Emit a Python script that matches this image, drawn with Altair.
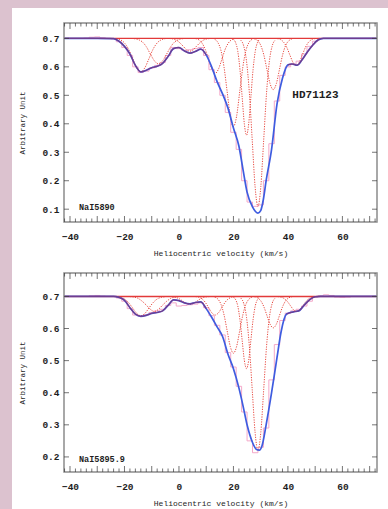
import altair as alt
import pandas as pd

W, H = 313, 199
FONT = "Liberation Mono"
INK = "#1e1e1e"

VEL_LIMITS = [-42.2, 72.7]
TOP_Y_LIMITS = [0.055, 0.754]
BOT_Y_LIMITS = [0.153, 0.773]
X_TICK_LABELS = [-40, -20, 0, 20, 40, 60]
TOP_Y_TICK_LABELS = [0.1, 0.2, 0.3, 0.4, 0.5, 0.6, 0.7]
BOT_Y_TICK_LABELS = [0.2, 0.3, 0.4, 0.5, 0.6, 0.7]
X_MAJOR_TICKS = [-40, -30, -20, -10, 0, 10, 20, 30, 40, 50, 60, 70]
X_MINOR_TICKS = [-42, -38, -36, -34, -32, -28, -26, -24, -22, -18, -16, -14, -12,
                 -8, -6, -4, -2, 2, 4, 6, 8, 12, 14, 16, 18, 22, 24, 26, 28, 32, 34,
                 36, 38, 42, 44, 46, 48, 52, 54, 56, 58, 62, 64, 66, 68, 72]
CONTINUUM = 0.7

# smoothed observed profile (blue)
TOP_BLUE_V = [-42.2, -30, -24, -22, -20, -18, -16, -14, -12, -10, -8, -6, -4, -2, 0, 2, 4, 6, 8, 10,
              12, 14, 16, 18, 20, 22, 23.5, 25, 27, 29, 30, 31, 32, 34, 36, 38, 40, 41.5, 43.5,
              45, 47, 49, 51, 53, 60, 72.7]
TOP_BLUE_F = [0.7, 0.7, 0.699, 0.69, 0.672, 0.645, 0.605, 0.582, 0.588, 0.597, 0.602, 0.612, 0.636,
              0.664, 0.668, 0.656, 0.648, 0.654, 0.662, 0.642, 0.6, 0.548, 0.505, 0.455, 0.385,
              0.322, 0.24, 0.16, 0.108, 0.086, 0.095, 0.135, 0.2, 0.31, 0.47, 0.56, 0.607, 0.61,
              0.606, 0.622, 0.65, 0.675, 0.694, 0.7, 0.7, 0.7]
BOT_BLUE_V = [-42.2, -30, -24, -22, -20, -18, -16, -14, -12, -10, -8, -6, -4, -2, 0, 2, 4, 6, 8, 10,
              12, 14, 16, 18, 20, 22, 23.5, 25, 27, 28.5, 29.5, 30.5, 32, 34, 36, 37.5, 39.5, 42,
              44, 46, 48, 50, 52, 60, 72.7]
BOT_BLUE_F = [0.7, 0.7, 0.7, 0.697, 0.688, 0.665, 0.645, 0.638, 0.641, 0.647, 0.65, 0.655, 0.672,
              0.689, 0.687, 0.68, 0.677, 0.681, 0.683, 0.662, 0.635, 0.605, 0.575, 0.52, 0.475,
              0.415, 0.36, 0.3, 0.245, 0.223, 0.221, 0.235, 0.3, 0.4, 0.51, 0.59, 0.645, 0.652,
              0.655, 0.673, 0.69, 0.699, 0.7, 0.7, 0.7]

# raw spectrum (pink histogram), bin centres
PINK_V = [-42, -40, -38, -36, -34, -32, -30, -28, -26, -24, -22, -20, -18, -16, -14, -12, -10, -8,
          -6, -4, -2, 0, 2, 4, 6, 8, 10, 12, 14, 16, 18, 20, 22, 24, 26, 28, 30, 32, 34, 36, 38,
          40, 42, 44, 46, 48, 50, 52, 54, 56, 58, 60, 62, 64, 66, 68, 70, 72, 72.7]
TOP_PINK_F = [0.7, 0.7, 0.7, 0.7, 0.701, 0.704, 0.705, 0.702, 0.7, 0.698, 0.688, 0.668, 0.64, 0.6,
              0.58, 0.585, 0.596, 0.605, 0.615, 0.64, 0.668, 0.664, 0.658, 0.66, 0.664, 0.668,
              0.64, 0.59, 0.545, 0.5, 0.44, 0.37, 0.31, 0.2, 0.125, 0.11, 0.115, 0.2, 0.33, 0.48,
              0.57, 0.6, 0.61, 0.62, 0.645, 0.672, 0.69, 0.7, 0.7, 0.7, 0.7, 0.7, 0.7, 0.7, 0.7,
              0.7, 0.7, 0.7, 0.7]
BOT_PINK_F = [0.7, 0.7, 0.7, 0.7, 0.7, 0.702, 0.703, 0.701, 0.7, 0.7, 0.695, 0.685, 0.662, 0.642,
              0.64, 0.643, 0.65, 0.655, 0.66, 0.672, 0.68, 0.67, 0.672, 0.674, 0.676, 0.68, 0.665,
              0.64, 0.61, 0.58, 0.525, 0.48, 0.42, 0.34, 0.25, 0.213, 0.23, 0.29, 0.44, 0.55,
              0.625, 0.648, 0.655, 0.66, 0.67, 0.685, 0.698, 0.702, 0.705, 0.703, 0.698, 0.697,
              0.698, 0.7, 0.7, 0.7, 0.7, 0.7, 0.7]

# fitted absorption components (red dotted)
TOP_COMP_V = [
    [-23, -21.5, -20, -18.5, -17, -15.5, -14, -12.5, -11, -9.5, -8, -6.5, -5],
    [-16.5, -15, -13.5, -12, -10.5, -9, -7.5, -6, -4.5, -3, -1.5, 0, 1.5],
    [-3.5, -2.25, -1, 0.25, 1.5, 2.75, 4, 5.25, 6.5, 7.75, 9, 10.25, 11.5],
    [6.1, 7.3, 8.5, 9.7, 10.9, 12.1, 13.3, 14.5, 15.7, 16.9, 18.1, 19.3, 20.5],
    [13.1, 14.25, 15.4, 16.55, 17.7, 18.85, 20, 21.15, 22.3, 23.45, 24.6, 25.75, 26.9],
    [20, 20.8, 21.6, 22.4, 23.2, 24, 24.8, 25.6, 26.4, 27.2, 28, 28.8, 29.6],
    [22.7, 23.75, 24.8, 25.85, 26.9, 27.95, 29, 30.05, 31.1, 32.15, 33.2, 34.25, 35.3],
    [27.7, 28.85, 30, 31.15, 32.3, 33.45, 34.6, 35.75, 36.9, 38.05, 39.2, 40.35, 41.5],
    [36.1, 37.25, 38.4, 39.55, 40.7, 41.85, 43, 44.15, 45.3, 46.45, 47.6, 48.75, 49.9],
]
TOP_COMP_F = [
    [0.699, 0.695, 0.684, 0.662, 0.629, 0.597, 0.583, 0.597, 0.629, 0.662, 0.684, 0.695, 0.699],
    [0.699, 0.696, 0.688, 0.671, 0.645, 0.621, 0.61, 0.621, 0.645, 0.671, 0.688, 0.696, 0.699],
    [0.6995, 0.698, 0.694, 0.685, 0.673, 0.66, 0.655, 0.66, 0.673, 0.685, 0.694, 0.698, 0.6995],
    [0.699, 0.695, 0.683, 0.66, 0.625, 0.592, 0.577, 0.592, 0.625, 0.66, 0.683, 0.695, 0.699],
    [0.697, 0.686, 0.658, 0.599, 0.512, 0.426, 0.39, 0.426, 0.512, 0.599, 0.658, 0.686, 0.697],
    [0.696, 0.685, 0.654, 0.59, 0.494, 0.4, 0.36, 0.4, 0.494, 0.59, 0.654, 0.685, 0.696],
    [0.6935, 0.674, 0.62, 0.508, 0.342, 0.179, 0.11, 0.179, 0.342, 0.508, 0.62, 0.674, 0.6935],
    [0.698, 0.692, 0.676, 0.642, 0.591, 0.541, 0.52, 0.541, 0.591, 0.642, 0.676, 0.692, 0.698],
    [0.699, 0.696, 0.687, 0.669, 0.642, 0.616, 0.605, 0.616, 0.642, 0.669, 0.687, 0.696, 0.699],
]
BOT_COMP_V = [
    [-23, -21.5, -20, -18.5, -17, -15.5, -14, -12.5, -11, -9.5, -8, -6.5, -5],
    [-18, -16.5, -15, -13.5, -12, -10.5, -9, -7.5, -6, -4.5, -3, -1.5, 0],
    [-3.5, -2.25, -1, 0.25, 1.5, 2.75, 4, 5.25, 6.5, 7.75, 9, 10.25, 11.5],
    [6.1, 7.3, 8.5, 9.7, 10.9, 12.1, 13.3, 14.5, 15.7, 16.9, 18.1, 19.3, 20.5],
    [13.1, 14.25, 15.4, 16.55, 17.7, 18.85, 20, 21.15, 22.3, 23.45, 24.6, 25.75, 26.9],
    [20, 20.8, 21.6, 22.4, 23.2, 24, 24.8, 25.6, 26.4, 27.2, 28, 28.8, 29.6],
    [22.7, 23.75, 24.8, 25.85, 26.9, 27.95, 29, 30.05, 31.1, 32.15, 33.2, 34.25, 35.3],
    [27.7, 28.85, 30, 31.15, 32.3, 33.45, 34.6, 35.75, 36.9, 38.05, 39.2, 40.35, 41.5],
    [36.3, 37.45, 38.6, 39.75, 40.9, 42.05, 43.2, 44.35, 45.5, 46.65, 47.8, 48.95, 50.1],
]
BOT_COMP_F = [
    [0.699, 0.697, 0.692, 0.6805, 0.664, 0.647, 0.64, 0.647, 0.664, 0.6805, 0.692, 0.697, 0.699],
    [0.6995, 0.698, 0.694, 0.685, 0.673, 0.66, 0.653, 0.66, 0.673, 0.685, 0.694, 0.698, 0.6995],
    [0.6997, 0.6989, 0.6966, 0.6919, 0.6848, 0.6779, 0.675, 0.6779, 0.6848, 0.6919, 0.6966, 0.6989, 0.6997],
    [0.6994, 0.6975, 0.6922, 0.6812, 0.6648, 0.6488, 0.642, 0.6488, 0.6648, 0.6812, 0.6922, 0.6975, 0.6994],
    [0.698, 0.692, 0.676, 0.6425, 0.5926, 0.5438, 0.523, 0.5438, 0.5926, 0.6425, 0.676, 0.692, 0.698],
    [0.6975, 0.69, 0.67, 0.627, 0.5635, 0.501, 0.475, 0.501, 0.5635, 0.627, 0.67, 0.69, 0.6975],
    [0.6947, 0.6789, 0.6351, 0.5441, 0.4089, 0.2764, 0.22, 0.2764, 0.4089, 0.5441, 0.6351, 0.6789, 0.6947],
    [0.6989, 0.6957, 0.6867, 0.6682, 0.6406, 0.6135, 0.602, 0.6135, 0.6406, 0.6682, 0.6867, 0.6957, 0.6989],
    [0.6995, 0.6979, 0.6936, 0.6847, 0.6715, 0.6585, 0.653, 0.6585, 0.6715, 0.6847, 0.6936, 0.6979, 0.6995],
]

TOP_LABELS = [{"v": -36.7, "f": 0.108, "label": "NaI5890", "size": 8.5, "align": "left"},
              {"v": 50.1, "f": 0.501, "label": "HD71123", "size": 11, "align": "center"}]
BOT_LABELS = [{"v": -36.7, "f": 0.192, "label": "NaI5895.9", "size": 8.5, "align": "left"}]


def panel(blue_v, blue_f, pink_f, comp_v, comp_f, ydom, yticks, labels, top=False):
    xs = alt.Scale(domain=VEL_LIMITS, nice=False, zero=False)
    ys = alt.Scale(domain=ydom, nice=False, zero=False)
    x_axis = alt.Axis(values=X_TICK_LABELS, title="Heliocentric velocity (km/s)", tickSize=0,
                      domain=False, grid=False, labelFont=FONT, labelFontSize=9.5,
                      labelFontWeight="bold", labelColor=INK, labelPadding=9, titleFont=FONT,
                      titleFontSize=8, titleFontWeight="normal", titleColor=INK,
                      titlePadding=9, labelFlush=False)
    y_axis = alt.Axis(values=yticks, format=".1f", title="Arbitrary Unit", tickSize=0,
                      domain=False, grid=False, labelFont=FONT, labelFontSize=9.5,
                      labelFontWeight="bold", labelColor=INK, labelPadding=5, titleFont=FONT,
                      titleFontSize=7.5, titleFontWeight="normal", titleColor=INK,
                      titlePadding=15)
    X = alt.X("v:Q", scale=xs, axis=x_axis)
    Y = alt.Y("f:Q", scale=ys, axis=y_axis)

    blue = pd.DataFrame({"v": blue_v, "f": blue_f})
    pink = pd.DataFrame({"v": PINK_V, "f": pink_f})
    rows = []
    for i, (vv, ff) in enumerate(zip(comp_v, comp_f)):
        for a, b in zip(vv, ff):
            rows.append({"v": a, "f": b, "c": i})
    comps = pd.DataFrame(rows)
    one = pd.DataFrame({"v": [0.0], "f": [CONTINUUM]})
    cont = pd.DataFrame({"v": VEL_LIMITS, "f": [CONTINUUM, CONTINUUM]})

    layers = []
    if top:
        layers.append(alt.Chart(one).mark_rect(color="#dcc2cf").encode(
            x=alt.value(-64), x2=alt.value(-52), y=alt.value(-23), y2=alt.value(486)))
        layers.append(alt.Chart(one).mark_rect(color="#dcc2cf").encode(
            x=alt.value(-64), x2=alt.value(W + 11), y=alt.value(-23), y2=alt.value(-15)))

    layers.append(alt.Chart(pink).mark_line(color="#f4a8c9", strokeWidth=1,
                                            interpolate="step").encode(x=X, y=Y))
    layers.append(alt.Chart(comps).mark_line(color="#e8493f", strokeWidth=1,
                                             strokeDash=[1.2, 1.3], interpolate="monotone")
                  .encode(x=X, y=Y, detail="c:N"))
    layers.append(alt.Chart(cont).mark_line(color="#e23a3a", strokeWidth=1.4).encode(x=X, y=Y))
    layers.append(alt.Chart(blue).mark_line(color="#3e5ce0", strokeWidth=1.7,
                                            interpolate="monotone").encode(x=X, y=Y))
    layers.append(alt.Chart(blue)
                  .transform_filter("datum.v <= 10 || datum.v >= 39")
                  .transform_calculate(seg="datum.v <= 10 ? 'a' : 'b'")
                  .mark_line(color="#a01c3c", strokeWidth=1.3, opacity=0.5,
                             interpolate="monotone")
                  .encode(x=X, y=Y, detail="seg:N"))

    # frame
    layers.append(alt.Chart(one).mark_rect(fillOpacity=0, stroke="#8c8c8c", strokeWidth=1.5)
                  .encode(x=alt.value(0), x2=alt.value(W), y=alt.value(0), y2=alt.value(H)))

    # inward ticks
    xmaj = pd.DataFrame({"v": X_MAJOR_TICKS})
    xmin = pd.DataFrame({"v": X_MINOR_TICKS})
    yt = pd.DataFrame({"f": yticks})
    tick_color = "#3a3a3a"
    for df, L in ((xmaj, 6), (xmin, 3.5)):
        layers.append(alt.Chart(df).mark_tick(orient="vertical", size=L, thickness=1,
                                              color=tick_color)
                      .encode(x=X, y=alt.value(H - L / 2)))
        layers.append(alt.Chart(df).mark_tick(orient="vertical", size=L, thickness=1,
                                              color=tick_color)
                      .encode(x=X, y=alt.value(L / 2)))
    for xpos in (2.5, W - 2.5):
        layers.append(alt.Chart(yt).mark_tick(orient="horizontal", size=5, thickness=1,
                                              color=tick_color)
                      .encode(y=Y, x=alt.value(xpos)))

    for lab in labels:
        layers.append(alt.Chart(pd.DataFrame([lab])).mark_text(
            font=FONT, fontWeight="bold", fontSize=lab["size"], align=lab["align"],
            baseline="middle", color=INK).encode(x=X, y=Y, text="label:N"))

    return alt.layer(*layers).properties(width=W, height=H)


top = panel(TOP_BLUE_V, TOP_BLUE_F, TOP_PINK_F, TOP_COMP_V, TOP_COMP_F, TOP_Y_LIMITS,
            TOP_Y_TICK_LABELS, TOP_LABELS, top=True)
bot = panel(BOT_BLUE_V, BOT_BLUE_F, BOT_PINK_F, BOT_COMP_V, BOT_COMP_F, BOT_Y_LIMITS,
            BOT_Y_TICK_LABELS, BOT_LABELS)

chart = alt.vconcat(top, bot, spacing=51, bounds="flush").properties(
    padding={"left": 0, "top": 0, "right": 0, "bottom": 0},
    background="white",
).configure_view(stroke=None)

chart.save("out.html", embed_options={"renderer": "svg", "actions": False})
